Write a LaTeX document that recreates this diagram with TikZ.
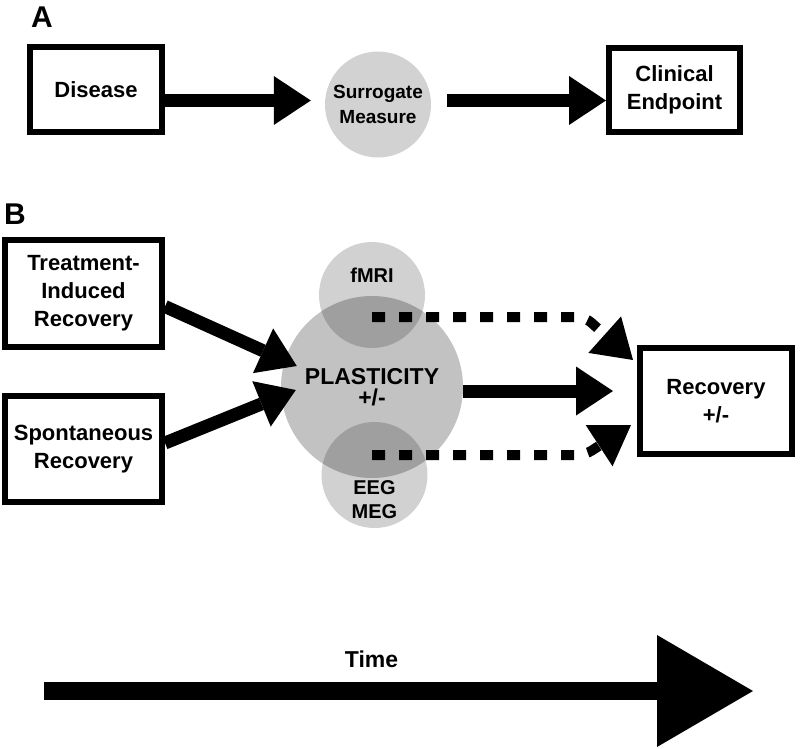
\documentclass[tikz,border=0pt]{standalone}
\usepackage{fontspec}
\setmainfont{Liberation Sans}
\usetikzlibrary{positioning,arrows.meta}
\tikzset{
    box/.style={draw, line width=6pt, align=center,
        font=\fontsize{22}{28}\selectfont\bfseries},
    fat arrow/.style={line width=13pt,
        -{Triangle[length=37pt,width=49pt,line width=0pt]}},
    dash arrow/.style={line width=10pt, dash pattern=on 13pt off 14pt,
        rounded corners=8pt, -{Triangle[length=38pt,width=49pt,line width=0pt]}},
    blob/.style={circle, fill=black, fill opacity=0.18, text opacity=1,
        inner sep=0pt, minimum size=106pt}
}

\begin{document}
\begin{tikzpicture}[x=1pt,y=-1pt]
\tikzstyle{panel label}=[font=\fontsize{30}{30}\selectfont\bfseries]
\tikzstyle{small text}=[align=center, font=\fontsize{20}{24}\selectfont\bfseries]
\useasboundingbox (0,0) rectangle (800,749);

% A
\node[panel label] (A) at (42,17.5) {A};
\node[box, minimum width=132pt, minimum height=85pt] (disease) at (96,89.5) {Disease};
\node[circle, fill=gray!35, inner sep=0pt, minimum size=106pt, align=center,
    font=\fontsize{19}{25}\selectfont\bfseries] (surrogate) at (378,104.5) {Surrogate\\Measure};
\node[box, minimum width=131pt, minimum height=84pt] (clinical) at (674.5,90) {Clinical\\Endpoint};
\draw[fat arrow] ([yshift=-11pt]disease.east) -- ([xshift=-14pt,yshift=4pt]surrogate.west);
\draw[fat arrow] ([xshift=16pt,yshift=4pt]surrogate.east) -- ([yshift=-10.5pt]clinical.west);

% B
\node[panel label] (B) at (15,214) {B};
\node[box, minimum width=157pt, minimum height=107pt] (treatment) at (83.5,293.5) {Treatment-\\Induced\\Recovery};
\node[box, minimum width=157pt, minimum height=106pt] (spontaneous) at (83.5,449) {Spontaneous\\Recovery};
\node[blob, fill opacity=0.24, minimum size=182pt, align=center,
    font=\fontsize{23}{21}\selectfont\bfseries] (plasticity) at (372,387) {PLASTICITY\\+/-};
\node[blob] (fmri) at (372,295) {};
\node[blob] (eeg) at (374.5,475) {};
\node[small text] (fmri label) at ([yshift=20pt]fmri.center) {fMRI};
\node[small text] (eeg label) at ([yshift=-25pt]eeg.center) {EEG\\MEG};
\node[box, minimum width=152pt, minimum height=106pt] (recovery) at (716,401) {Recovery\\+/-};

\draw[fat arrow] ([yshift=-13pt]treatment.east) -- ([xshift=16pt,yshift=21pt]plasticity.west);
\draw[fat arrow] ([yshift=6pt]spontaneous.east) -- ([xshift=15pt,yshift=-3pt]plasticity.west);
\draw[fat arrow] ([yshift=-4pt]plasticity.east) -- ([xshift=-24pt,yshift=10pt]recovery.west);
\draw[dash arrow] ([yshift=-22pt]fmri.center) -- ++(213,0)
    -- ([xshift=-4pt,yshift=-15pt]recovery.north west);
\draw[dash arrow] ([xshift=-2.5pt,yshift=20pt]eeg.center) -- ++(213,0)
    -- ([xshift=-6pt,yshift=-24pt]recovery.west);

% time
\coordinate (time start) at (44,691);
\coordinate (time end) at (753,691);
\draw[line width=18pt, -{Triangle[length=96pt,width=112pt,line width=0pt]}] (time start) -- (time end);
\node[font=\fontsize{23}{23}\selectfont\bfseries] (time) at (371.5,659.5) {Time};
\end{tikzpicture}
\end{document}
